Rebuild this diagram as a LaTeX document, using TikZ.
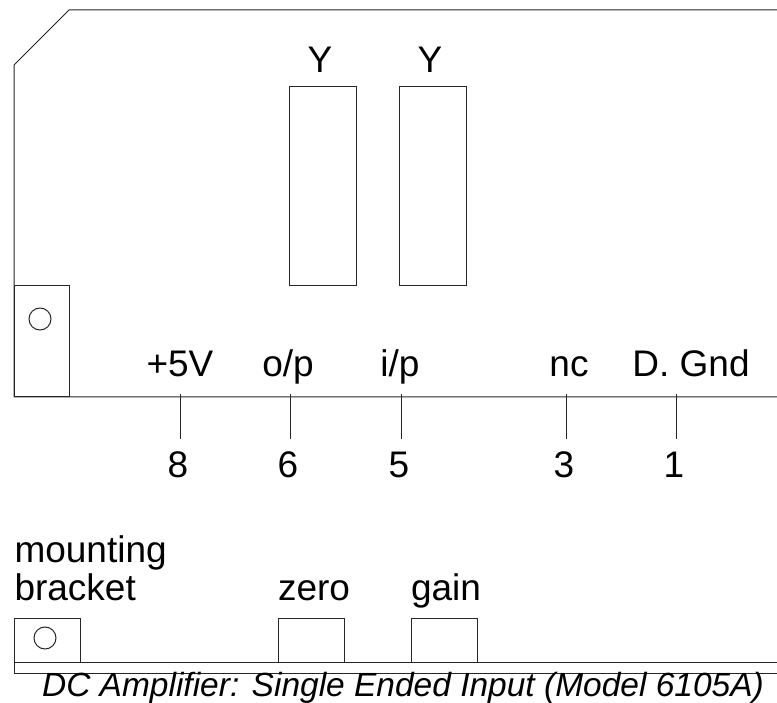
\documentclass[tikz,border=0pt]{standalone}
\usepackage{fontspec}
\setmainfont{Liberation Sans}
\usetikzlibrary{positioning}
\tikzset{
  lbl/.style={inner sep=0pt,anchor=base,font=\fontsize{37}{38}\selectfont},
  chip/.style={draw,inner sep=0pt,minimum width=67pt,minimum height=199pt},
  trim/.style={draw,inner sep=0pt,minimum width=66pt,minimum height=44pt},
  hole/.style={draw,circle,inner sep=0pt,minimum size=22pt}
}
\begin{document}
\begin{tikzpicture}[x=1pt,y=-1pt,line width=1pt,draw=black!85]
  \useasboundingbox (0,0) rectangle (777,703);
  % top view
  \draw (777,10) -- (69,10) -- (14,65) -- (14,397) -- (777,397);
  \draw (14,286) rectangle (69,397);
  \node[hole] (hole1) at (40,319) {};
  \node[chip] (chip1) at (322.5,186.5) {};
  \node[chip,right=42pt of chip1] (chip2) {};
  \node[lbl] (y1) at (320,73) {Y};
  \node[lbl] (y2) at (430,73) {Y};
  \node[lbl] (sig8) at (180,377) {+5V};
  \node[lbl] (sig6) at (288,377) {o/p};
  \node[lbl] (sig5) at (400,377) {i/p};
  \node[lbl] (sig3) at (569,377) {nc};
  \node[lbl] (sig1) at (691,377) {D. Gnd};
  \node[lbl] (pin8) at (178,477) {8};
  \node[lbl] (pin6) at (288,477) {6};
  \node[lbl] (pin5) at (399,477) {5};
  \node[lbl] (pin3) at (564,477) {3};
  \node[lbl] (pin1) at (674,477) {1};
  \coordinate (t8) at (180,394); \coordinate (b8) at (180,439);
  \coordinate (t6) at (290,394); \coordinate (b6) at (290,439);
  \coordinate (t5) at (401,394); \coordinate (b5) at (401,439);
  \coordinate (t3) at (566,394); \coordinate (b3) at (566,439);
  \coordinate (t1) at (676,394); \coordinate (b1) at (676,439);
  \draw (t8) -- (b8);
  \draw (t6) -- (b6);
  \draw (t5) -- (b5);
  \draw (t3) -- (b3);
  \draw (t1) -- (b1);
  % end view
  \draw (777,662) -- (14,662) -- (14,673) -- (777,673);
  \node[trim] (bracket) at (47,640) {};
  \node[hole] (hole2) at (45,638) {};
  \node[trim] (zero) at (311,640) {};
  \node[trim] (gain) at (444,640) {};
  \node[lbl,anchor=base west] (mount1) at (14,562) {mounting};
  \node[lbl,anchor=base west] (mount2) at (14,600) {bracket};
  \node[lbl] (zerotxt) at (314,600) {zero};
  \node[lbl] (gaintxt) at (446,600) {gain};
  \node[lbl,font=\fontsize{33.5}{35}\selectfont\itshape] (title) at (403,696) {DC Amplifier: Single Ended Input (Model 6105A)};
\end{tikzpicture}
\end{document}
